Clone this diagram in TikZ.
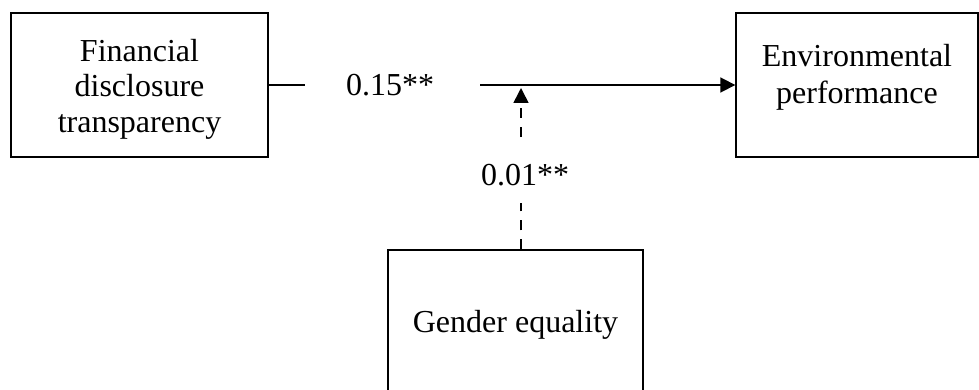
\documentclass[tikz,border=0pt]{standalone}
\usepackage{fontspec}
\setmainfont{Liberation Serif}
\usetikzlibrary{arrows.meta}

\begin{document}
\begin{tikzpicture}[x=0.5pt,y=-0.5pt,
		box/.style={draw, line width=0.7pt, inner sep=0pt, align=center, font=\fontsize{16}{18.5}\selectfont},
		txt/.style={inner sep=0pt, align=center, font=\fontsize{16}{18.5}\selectfont},
		solidline/.style={line width=0.9pt},
		dashline/.style={line width=0.8pt, dash pattern=on 5pt off 4.5pt},
		tip/.style={-{Triangle[length=7.5pt,width=7.5pt]}}]
			\useasboundingbox (0,0) rectangle (979,390);
			% boxes
			\node[box, minimum width=128.5pt, minimum height=72pt] (fin) at (139.5,85) {};
			\node[txt, font=\fontsize{16}{17.8}\selectfont] (fintext) at (139.5,89) {Financial\\disclosure\\transparency};
			\node[box, minimum width=121pt, minimum height=72pt] (env) at (857,85) {};
			\node[txt] (envtext) at (857,77) {Environmental\\performance};
			\node[box, minimum width=127.5pt, minimum height=75pt] (gen) at (515.5,325) {Gender equality};
			% main path
			\coordinate (stub) at (305,85);
			\coordinate (resume) at (480,85);
			\node[txt] (beta) at (390,85) {0.15**};
			\draw[solidline] (fin.east) -- (stub);
			\draw[solidline, tip] (resume) -- (env.west);
			% moderation
			\coordinate (meet) at (521,86);
			\coordinate (modtop) at (521,137);
			\coordinate (modbot) at (521,203);
			\node[txt] (mod) at (525,175) {0.01**};
			\draw[dashline] (modbot |- gen.north) -- (modbot);
			\draw[dashline, tip, shorten >=1pt] (modtop) -- (meet);
		\end{tikzpicture}
\end{document}
